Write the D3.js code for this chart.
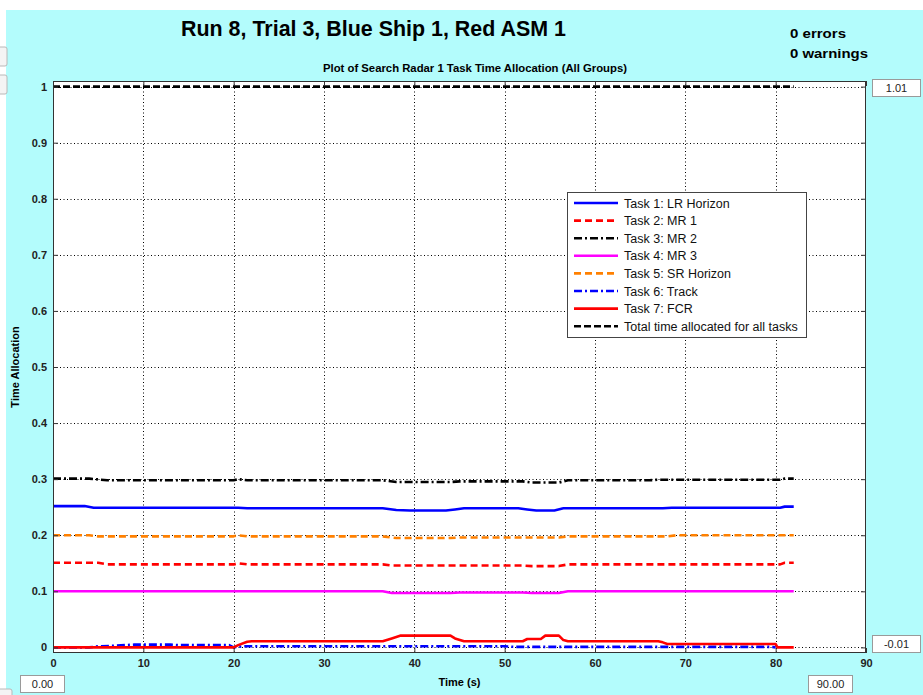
<!DOCTYPE html>
<html>
<head>
<meta charset="utf-8">
<script src="https://cdn.jsdelivr.net/npm/d3@7"></script>
<style>
  html, body { margin: 0; padding: 0; background: #ffffff; }
  svg { display: block; font-family: "Liberation Sans", Arial, sans-serif; }
</style>
</head>
<body>
<svg id="chart" width="923" height="695"></svg>
<script>
// ---- data: [time (s), fraction of radar time] ----
const taskLRHorizon = [[0,0.252],[3.5,0.252],[4.5,0.249],[20.5,0.249],[21.5,0.248],[36.5,0.248],[38,0.245],[39.5,0.244],[43.5,0.244],[44.5,0.246],[45.5,0.248],[51.5,0.248],[52.5,0.246],[53.5,0.244],[55.5,0.244],[56.5,0.248],[67.5,0.248],[68.5,0.249],[80.5,0.249],[81,0.251],[82,0.251]];
const taskMR1 = [[0,0.151],[5,0.151],[6,0.148],[20,0.148],[20.5,0.150],[21.5,0.148],[36.5,0.148],[37.5,0.146],[52,0.146],[53,0.145],[56,0.145],[57,0.148],[80.5,0.148],[81,0.151],[82,0.151]];
const taskMR2 = [[0,0.301],[4,0.301],[6,0.298],[20,0.298],[20.5,0.300],[21.5,0.298],[36.5,0.298],[38,0.295],[44,0.295],[45,0.296],[52,0.296],[53,0.294],[56,0.294],[57,0.298],[66,0.298],[67,0.299],[80.5,0.299],[81,0.301],[82,0.301]];
const taskMR3 = [[0,0.1],[36.5,0.1],[37.5,0.097],[44,0.097],[45,0.098],[52,0.098],[53,0.097],[56,0.097],[57,0.1],[82,0.1]];
const taskSRHorizon = [[0,0.200],[4,0.200],[5,0.198],[20,0.198],[20.5,0.200],[21.5,0.198],[36.5,0.198],[38,0.195],[44,0.195],[45,0.196],[56,0.196],[57,0.198],[68,0.198],[69,0.2],[82,0.2]];
const taskTrack = [[0,0],[4,0],[5,0.002],[7,0.003],[9,0.005],[13,0.005],[14,0.004],[19.5,0.004],[20,0],[21,0.002],[50,0.002],[51,0.001],[79.5,0.001],[80,0]];
const taskFCR = [[0,0],[20,0],[20.5,0.004],[21.5,0.010],[22,0.011],[36.5,0.011],[37.5,0.016],[38.5,0.021],[44,0.021],[44.5,0.016],[45.5,0.011],[52,0.011],[52.5,0.015],[54,0.015],[54.5,0.021],[56,0.021],[56.5,0.013],[57,0.011],[67,0.011],[67.5,0.009],[68,0.006],[80,0.006],[80.2,0],[82,0]];
const totalAllocated = [[0,1],[82,1]];

const seriesNames = ["Task 1: LR Horizon","Task 2: MR 1","Task 3: MR 2","Task 4: MR 3","Task 5: SR Horizon","Task 6: Track","Task 7: FCR","Total time allocated for all tasks"];
const seriesData = [taskLRHorizon, taskMR1, taskMR2, taskMR3, taskSRHorizon, taskTrack, taskFCR, totalAllocated];

const xTicks = [0,10,20,30,40,50,60,70,80,90];
const yTicks = [0,0.1,0.2,0.3,0.4,0.5,0.6,0.7,0.8,0.9,1];
const xRange = [0, 90];
const yRange = [-0.01, 1.01];

// ---- styling ----
const seriesStyles = [
  { color: "#0000ff", dash: null },
  { color: "#ff0000", dash: "7,4" },
  { color: "#000000", dash: "8,3,2,3" },
  { color: "#ff00ff", dash: null },
  { color: "#ff8000", dash: "7,4" },
  { color: "#0000ff", dash: "8,3,2,3" },
  { color: "#ff0000", dash: null },
  { color: "#000000", dash: "7,3" }
];

const svg = d3.select("#chart");
const bg = "#b3fcfc";
const plot = { left: 53, right: 866, top: 81, bottom: 653 };
const locale = d3.formatLocale({ decimal: ".", thousands: ",", grouping: [3], currency: ["", ""], minus: "-" });

// window background
svg.append("rect").attr("x", 6).attr("y", 10).attr("width", 917).attr("height", 685).attr("fill", bg);
// small side tabs
[[47, 19], [75, 19]].forEach(([y, h]) => {
  svg.append("rect").attr("x", -4).attr("y", y).attr("width", 11).attr("height", h)
    .attr("rx", 2).attr("fill", "#f4f4f4").attr("stroke", "#b8b8b8");
});
svg.append("rect").attr("x", -4).attr("y", 689).attr("width", 16).attr("height", 12)
  .attr("rx", 2).attr("fill", "#f4f4f4").attr("stroke", "#b8b8b8");

// titles
function label(txt, x, y, opts) {
  const t = svg.append("text").attr("x", x).attr("y", y).text(txt)
    .attr("font-size", opts.size).attr("font-weight", opts.weight || "normal")
    .attr("fill", opts.fill || "#000").attr("text-anchor", opts.anchor || "start");
  if (opts.len) t.attr("textLength", opts.len).attr("lengthAdjust", "spacingAndGlyphs");
  return t;
}
label("Run 8, Trial 3, Blue Ship 1, Red ASM 1", 373.5, 36, { size: 22, weight: "bold", anchor: "middle", len: 385 });
label("0 errors", 790, 38, { size: 13, weight: "bold", len: 56 });
label("0 warnings", 790, 58, { size: 13, weight: "bold", len: 78 });
label("Plot of Search Radar 1 Task Time Allocation (All Groups)", 475, 72, { size: 11, weight: "bold", anchor: "middle", len: 304 });

// scales
const x = d3.scaleLinear().domain(xRange).range([plot.left, plot.right]);
const y = d3.scaleLinear().domain(yRange).range([plot.bottom, plot.top]);

// plot background
svg.append("rect").attr("x", plot.left).attr("y", plot.top)
  .attr("width", plot.right - plot.left).attr("height", plot.bottom - plot.top).attr("fill", "#fff");

// grid
const grid = svg.append("g").attr("stroke", "#000").attr("stroke-width", 1).attr("stroke-dasharray", "1,2.5");
grid.selectAll("line.gx").data(xTicks.filter(d => d > xRange[0] && d < xRange[1])).join("line")
  .attr("x1", d => Math.round(x(d)) + 0.5).attr("x2", d => Math.round(x(d)) + 0.5)
  .attr("y1", plot.top).attr("y2", plot.bottom);
grid.selectAll("line.gy").data(yTicks).join("line")
  .attr("y1", d => Math.round(y(d)) + 0.5).attr("y2", d => Math.round(y(d)) + 0.5)
  .attr("x1", plot.left).attr("x2", plot.right);

// series
const line = d3.line().x(d => x(d[0])).y(d => y(d[1]));
const order = [7, 0, 1, 2, 3, 4, 5, 6];
order.forEach(i => {
  svg.append("path").datum(seriesData[i]).attr("d", line)
    .attr("fill", "none").attr("stroke", seriesStyles[i].color)
    .attr("stroke-width", 2.6).attr("stroke-dasharray", seriesStyles[i].dash)
    .attr("stroke-linejoin", "round");
});

// axes with inward ticks
const axisFont = g => g.selectAll("text").attr("font-size", 11).attr("font-weight", "bold")
  .attr("fill", "#222").attr("font-family", '"Liberation Sans", Arial, sans-serif');
const fmt = locale.format("~g");
const bottomAxis = svg.append("g").attr("transform", `translate(0,${plot.bottom})`)
  .call(d3.axisBottom(x).tickValues(xTicks).tickFormat(fmt).tickSizeInner(-5).tickSizeOuter(0).tickPadding(6));
bottomAxis.call(axisFont);
const topAxis = svg.append("g").attr("transform", `translate(0,${plot.top})`)
  .call(d3.axisTop(x).tickValues(xTicks).tickFormat("").tickSizeInner(-5).tickSizeOuter(0));
const leftAxis = svg.append("g").attr("transform", `translate(${plot.left},0)`)
  .call(d3.axisLeft(y).tickValues(yTicks).tickFormat(fmt).tickSizeInner(-5).tickSizeOuter(0).tickPadding(6));
leftAxis.call(axisFont);
const rightAxis = svg.append("g").attr("transform", `translate(${plot.right},0)`)
  .call(d3.axisRight(y).tickValues(yTicks).tickFormat("").tickSizeInner(-5).tickSizeOuter(0));
[bottomAxis, topAxis, leftAxis, rightAxis].forEach(g => {
  g.select(".domain").remove();
  g.selectAll(".tick line").attr("stroke", "#333");
});

// plot frame
svg.append("rect").attr("x", plot.left + 0.5).attr("y", plot.top + 0.5)
  .attr("width", plot.right - plot.left - 1).attr("height", plot.bottom - plot.top - 1)
  .attr("fill", "none").attr("stroke", "#333").attr("stroke-width", 1);

// axis titles
label("Time (s)", (plot.left + plot.right) / 2, 686, { size: 11, weight: "bold", anchor: "middle" });
svg.append("text").attr("transform", `translate(19,${(plot.top + plot.bottom) / 2}) rotate(-90)`)
  .attr("text-anchor", "middle").attr("font-size", 11).attr("font-weight", "bold").text("Time Allocation");

// limit boxes
const fmt2 = locale.format(".2f");
function valueBox(txt, bx, by, w, h) {
  svg.append("rect").attr("x", bx + 0.5).attr("y", by + 0.5).attr("width", w).attr("height", h)
    .attr("fill", "#fff").attr("stroke", "#9a9a9a");
  svg.append("text").attr("x", bx + w / 2 + 0.5).attr("y", by + h / 2 + 4.5).attr("text-anchor", "middle")
    .attr("font-size", 11).attr("fill", "#222").text(txt);
}
valueBox(fmt2(yRange[1]), 872, 79, 48, 17);
valueBox(fmt2(yRange[0]), 872, 635, 48, 17);
valueBox(fmt2(xRange[0]), 20, 675, 44, 17);
valueBox(fmt2(xRange[1]), 808, 675, 44, 17);

// legend
const lg = { x: 567, y: 192, w: 239, h: 145, row0: 203, step: 17.6 };
svg.append("rect").attr("x", lg.x + 0.5).attr("y", lg.y + 0.5).attr("width", lg.w).attr("height", lg.h)
  .attr("fill", "#fff").attr("stroke", "#444");
seriesNames.forEach((name, i) => {
  const ry = lg.row0 + i * lg.step;
  svg.append("line").attr("x1", lg.x + 7).attr("x2", lg.x + 51).attr("y1", ry).attr("y2", ry)
    .attr("stroke", seriesStyles[i].color).attr("stroke-width", 2.6)
    .attr("stroke-dasharray", seriesStyles[i].dash);
  svg.append("text").attr("x", lg.x + 57).attr("y", ry + 4.5).attr("font-size", 12.5).attr("fill", "#111").text(name);
});
</script>
</body>
</html>
